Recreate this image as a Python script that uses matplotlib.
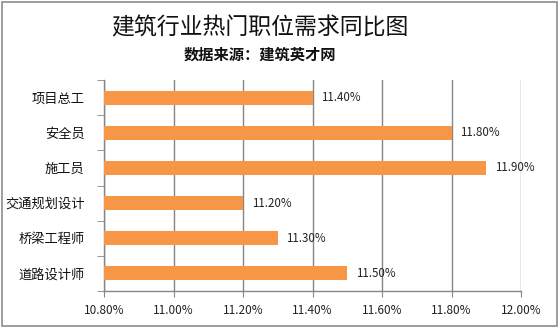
import matplotlib.pyplot as plt
import numpy as np
from matplotlib.patches import Rectangle
from matplotlib.ticker import FixedLocator

plt.rcParams['font.family'] = ['Noto Sans CJK SC', 'DejaVu Sans']

TITLE = "建筑行业热门职位需求同比图"
SUBTITLE = "数据来源：建筑英才网"
jobs = ["项目总工", "安全员", "施工员", "交通规划设计", "桥梁工程师", "道路设计师"]
share = [11.40, 11.80, 11.90, 11.20, 11.30, 11.50]
x_ticks = [10.8, 11.0, 11.2, 11.4, 11.6, 11.8, 12.0]

BAR = "#F79646"
GRID = "#868686"

fig = plt.figure(figsize=(5.59, 3.28), dpi=100)
fig.patches.append(Rectangle((2 / 559, 2 / 328), 555 / 559, 324 / 328,
                             transform=fig.transFigure, fill=False,
                             edgecolor="#8c8c8c", lw=1.2))

ax = fig.add_axes([104 / 559, 37 / 328, 417 / 559, 211 / 328])
ypos = np.arange(len(jobs))
ax.barh(ypos, [v - x_ticks[0] for v in share], left=x_ticks[0],
        height=0.4, color=BAR, zorder=3)
for y, v in zip(ypos, share):
    ax.text(v + 0.025, y, f"{v:.2f}%", va="center", ha="left",
            fontsize=8.3, color="#222222", zorder=4)

ax.set_xlim(x_ticks[0], x_ticks[-1])
ax.set_ylim(len(jobs) - 0.5, -0.5)
ax.set_xticks(x_ticks)
ax.set_xticklabels([f"{t:.2f}%" for t in x_ticks], fontsize=8.5, color="#222222")
ax.set_yticks(ypos)
ax.set_yticklabels(jobs, fontsize=9.5, color="#111111")
ax.yaxis.set_minor_locator(FixedLocator(np.arange(-0.5, len(jobs), 1.0)))
ax.tick_params(axis="y", which="major", length=0, pad=14)
ax.tick_params(axis="y", which="minor", length=5, color=GRID, direction="out")
ax.tick_params(axis="x", length=4, color=GRID, pad=5)
ax.grid(axis="x", color=GRID, lw=1, zorder=0)
for side in ("top", "right"):
    ax.spines[side].set_visible(False)
for side in ("left", "bottom"):
    ax.spines[side].set_color(GRID)
    ax.spines[side].set_linewidth(1)

# titles sit a little left of the figure centre
fig.text(260 / 559, 1 - 28 / 328, TITLE, ha="center", va="center",
         fontsize=16.5, color="#111111")
fig.text(260 / 559, 1 - 55 / 328, SUBTITLE, ha="center", va="center",
         fontsize=11, fontweight="bold", color="#111111")

fig.savefig("out.png", dpi=100, facecolor="white")
